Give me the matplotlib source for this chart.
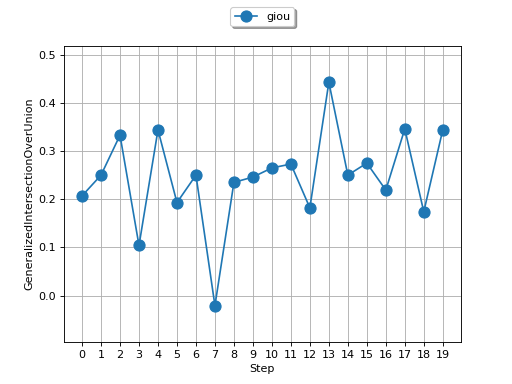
import matplotlib
matplotlib.use("Agg")
import matplotlib.pyplot as plt

steps = list(range(20))
giou = [0.207, 0.250, 0.333, 0.104, 0.344, 0.193, 0.250, -0.021, 0.235, 0.246,
        0.265, 0.273, 0.182, 0.443, 0.250, 0.275, 0.219, 0.346, 0.174, 0.344]

fig, ax = plt.subplots(figsize=(6.4, 4.8), dpi=80)

ax.plot(steps, giou, marker='o', markersize=10, label='giou')
ax.set_xticks(steps)
ax.set_ylim(min(giou) - 0.075, max(giou) + 0.075)
ax.set_xlabel("Step")
ax.set_ylabel("GeneralizedIntersectionOverUnion")
ax.grid(True)
ax.legend(loc='upper center', bbox_to_anchor=(0.5, 1.15), shadow=True, fancybox=True)

fig.savefig("out.png", dpi=80)
